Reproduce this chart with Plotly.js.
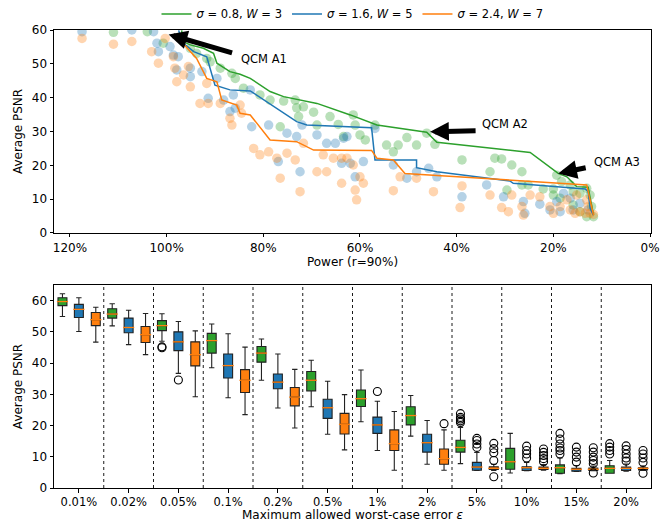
<!DOCTYPE html>
<html><head><meta charset="utf-8">
<script src="https://cdn.plot.ly/plotly-3.0.1.min.js"></script>
<style>body{margin:0;background:#fff}#c{width:670px;height:522px}</style>
</head><body><div id="c"></div>
<script>
// ---------- Top panel: scatter points (Power %, Average PSNR) ----------
const greenPower = [111.0,104,100.7,95.1,93.8,91.0,88.9,86.5,85.8,84.1,80.7,78.6,75.8,73.4,73.1,71.7,72.7,69.6,68.9,66.2,64.5,63.4,76.5,91.7,61.4,61.0,60.0,58.9,56.9,54.5,53.1,52.1,50.3,48.3,46.2,44.5,38.9,33.1,32.1,30.7,29.6,28.6,26.5,26.5,25.2,22.1,20.0,19.3,18.3,16.5,15.9,14.5,13.1,12.4,12.1,11.7,13.1,14.5,15.9,18.6,20.0];
const greenPSNR  = [59.3,59.5,56.1,54.6,53.1,50.6,48.7,47.2,45.7,42.8,40.8,39.3,39.0,39.3,37.0,37.3,34.4,35.7,31.9,34.4,32.1,28.5,31.4,51.6,34.9,31.9,29.0,27.5,31.9,26.0,24.0,26.0,28.2,26.0,29.5,26.2,21.6,18.1,22.1,21.9,12.7,20.1,18.1,14.2,14.2,13.0,13.0,17.1,15.2,14.2,12.2,11.7,13.2,11.2,7.8,4.8,4.8,6.3,8.3,10.3,11.2];
const bluePower  = [117.5,107.2,102.7,102.0,101.7,99.3,98.6,97.6,97.9,95.1,95.1,92.7,91.4,89.6,88.2,86.9,86.2,85.8,82.7,82.4,78.9,75.1,73.1,72.0,76.9,72.4,68.9,66.9,65.1,63.8,62.7,63.4,62.0,61.0,59.3,56.9,53.1,50.3,48.3,45.8,44.1,38.9,33.8,30.3,26.2,25.9,22.8,19.3,18.6,16.5,14.5,12.8,15.9,20.7,17.9];
const bluePSNR   = [59.5,60.0,59.5,56.1,53.6,55.1,52.6,52.1,48.2,48.7,46.2,47.7,39.8,45.7,39.3,35.9,40.8,36.9,42.3,31.4,31.9,29.5,28.5,31.9,21.1,18.1,29.0,26.5,26.5,20.6,28.5,28.0,20.6,16.6,21.1,30.9,20.1,16.2,18.1,19.1,16.6,10.7,14.2,10.7,9.3,5.8,8.5,9.3,6.3,10.3,8.8,6.8,6.8,6.8,11.7];
const orangePower= [117.5,111.0,107.2,103.1,101.7,100.3,98.6,98.3,97.9,96.5,95.5,95.1,93.1,91.7,91.4,88.9,86.9,86.5,84.8,84.5,82.0,80.7,78.9,77.2,76.5,75.1,73.4,72.4,71.7,68.9,66.9,65.5,63.8,62.7,67.6,63.8,61.4,61.0,60.7,59.3,60.0,53.1,51.7,48.3,44.8,38.9,39.3,33.1,30.7,29.3,28.6,26.5,26.2,24.8,22.8,20.7,20.0,18.6,17.2,16.5,15.5,14.5,13.4,12.4,11.7,12.8,15.2,13.1];
const orangePSNR = [57.5,55.8,56.6,53.6,50.2,57.5,52.1,48.7,44.7,46.7,49.2,43.2,38.3,44.2,38.3,38.3,33.9,31.9,37.8,35.4,25.0,23.1,24.0,22.1,16.2,23.6,21.6,12.2,26.5,18.1,18.1,22.1,14.7,22.1,23.1,22.1,20.1,12.7,9.8,14.7,16.6,12.5,16.6,16.2,12.2,13.9,7.5,11.2,7.5,6.3,11.2,7.8,5.3,11.2,10.7,7.8,5.8,7.8,9.8,6.8,5.8,6.3,5.8,5.8,5.5,7.8,11.2,9.8];

// ---------- Top panel: front lines ----------
const greenFrontPower = [96.9,96.5,95.1,92.4,90.3,89.6,86.9,84.8,82.7,78.6,75.8,68.9,62.0,56.5,46.2,44.1,24.8,19.0,17.2,15.2,12.8,11.7];
const greenFrontPSNR  = [59.9,56.5,55.6,54.6,53.1,50.2,47.7,46.9,45.7,41.8,40.3,38.3,34.9,31.9,29.8,26.8,23.8,17.6,16.6,13.7,13.5,5.3];
const blueFrontPower  = [97.5,96.9,94.4,91.7,90.0,86.9,82.7,73.1,71.0,62.0,57.6,56.9,48.3,48.3,44.1,29.0,28.3,13.4,12.8,12.4,11.7];
const blueFrontPSNR   = [59.9,56.5,53.6,52.1,43.7,42.3,42.0,32.9,31.9,31.4,31.1,21.6,21.6,19.3,18.1,15.4,14.7,13.0,12.2,7.3,5.3];
const orangeFrontPower= [97.2,93.8,91.7,89.6,88.6,85.5,84.8,82.7,78.6,73.1,69.6,62.0,57.6,56.5,53.1,50.7,13.1,11.7];
const orangeFrontPSNR = [57.0,51.6,45.7,44.7,39.3,37.8,35.4,34.9,27.5,27.0,24.5,24.4,24.4,22.1,21.6,17.6,14.2,5.3];

const powerTicks = [120,100,80,60,40,20,0];
const powerTickText = ['120%','100%','80%','60%','40%','20%','0%'];
const seriesNames = ['<i>σ</i> = 0.8, <i>W</i> = 3','<i>σ</i> = 1.6, <i>W</i> = 5','<i>σ</i> = 2.4, <i>W</i> = 7'];

// ---------- Bottom panel: box statistics ----------
const categories = ['0.01%','0.02%','0.05%','0.1%','0.2%','0.5%','1%','2%','5%','10%','15%','20%'];
const greenLo  = [54.9,51.9,47.0,38.5,34.5,26.0,21.2,16.6,7.8,4.8,4.6,4.7];
const greenQ1  = [58.4,54.4,50.4,43.2,40.3,31.1,26.1,20.2,11.5,6.0,4.7,4.7];
const greenMed = [59.7,55.7,52.0,47.2,43.2,34.5,28.6,23.2,13.0,8.4,6.5,6.3];
const greenQ3  = [60.9,57.4,53.6,49.5,45.3,37.3,31.4,26.0,15.3,12.7,7.4,7.1];
const greenHi  = [62.2,59.0,55.8,52.5,47.7,40.9,37.8,29.6,19.4,17.5,9.6,8.8];
const greenOut = [[],[],[45.2,44.9],[],[],[],[],[],[21.0,21.5,22.1,22.6,23.8],[],[10.9,12.0,12.8,14.1,15.7,17.5],[10.9,12.0,13.1,14.2]];
const blueLo   = [50.1,45.9,36.7,28.9,25.6,17.2,12.0,7.6,5.6,5.5,5.3,5.4];
const blueQ1   = [54.6,49.7,44.0,35.2,31.8,22.3,17.5,11.5,5.7,5.6,5.4,5.6];
const blueMed  = [57.2,51.4,46.8,39.2,33.9,25.7,20.2,14.5,6.7,6.5,6.0,6.3];
const blueQ3   = [58.8,54.4,50.0,42.9,36.5,28.4,22.7,17.2,8.2,6.8,6.3,6.7];
const blueHi   = [60.9,56.9,53.3,49.4,42.9,34.2,27.8,21.6,11.4,8.2,7.2,7.7];
const blueOut  = [[],[],[34.6],[],[],[],[30.9],[],[13.0,14.1,15.2,15.9],[9.6,10.9,12.0,13.4],[8.3,9.9,11.5,13.1],[8.6,9.6,10.9,12.3,13.5]];
const orangeLo = [46.7,42.7,29.2,23.5,19.2,12.2,5.7,5.7,5.6,5.7,5.5,5.6];
const orangeQ1 = [52.0,46.6,39.1,30.6,26.3,17.3,12.0,7.6,5.9,5.9,5.6,5.8];
const orangeMed= [53.9,49.1,42.7,34.5,29.1,20.4,14.2,9.4,6.3,6.3,6.0,6.3];
const orangeQ3 = [56.2,51.7,46.8,37.9,32.2,23.9,18.6,12.5,6.8,6.7,6.4,6.5];
const orangeHi = [57.9,55.9,50.3,45.1,38.0,29.9,24.5,18.6,7.6,7.5,7.0,7.0];
const orangeOut= [[],[],[],[],[],[],[],[20.6],[3.6,8.8,11.3,12.6,14.3],[8.4,9.4,10.4,11.4,12.5],[4.8,7.8,8.8,9.9,11.5,12.9],[4.7,8.2,9.6,10.9,12.0]];

const colors = ['#2ca02c','#1f77b4','#ff7f0e'];
const medianColor = '#ff7f0e';
const offsets = [-0.33,0,0.34];

const traces = [];
// scatter clouds
[[greenPower,greenPSNR],[bluePower,bluePSNR],[orangePower,orangePSNR]].forEach((d,i)=>{
  traces.push({type:'scatter',mode:'markers',x:d[0],y:d[1],xaxis:'x',yaxis:'y',showlegend:false,hoverinfo:'skip',
    marker:{size:9.5,color:colors[i],opacity:0.33,line:{width:0}}});
});
// fronts
[[greenFrontPower,greenFrontPSNR],[blueFrontPower,blueFrontPSNR],[orangeFrontPower,orangeFrontPSNR]].forEach((d,i)=>{
  traces.push({type:'scatter',mode:'lines',x:d[0],y:d[1],xaxis:'x',yaxis:'y',name:seriesNames[i],
    line:{color:colors[i],width:1.5},showlegend:true});
});
// boxes
const stats = [
  [greenLo,greenQ1,greenMed,greenQ3,greenHi,greenOut],
  [blueLo,blueQ1,blueMed,blueQ3,blueHi,blueOut],
  [orangeLo,orangeQ1,orangeMed,orangeQ3,orangeHi,orangeOut]];
stats.forEach((s,i)=>{
  const xs = categories.map((c,k)=>k+offsets[i]);
  traces.push({type:'box',x:xs,lowerfence:s[0],q1:s[1],median:s[2],q3:s[3],upperfence:s[4],
    xaxis:'x2',yaxis:'y2',showlegend:false,boxpoints:false,width:0.18,whiskerwidth:0.6,
    fillcolor:colors[i],line:{color:'#222',width:1.1},hoverinfo:'skip'});
  traces.push({type:'scatter',mode:'markers',x:xs,y:s[2],xaxis:'x2',yaxis:'y2',showlegend:false,hoverinfo:'skip',
    marker:{symbol:'line-ew',size:8,line:{color:medianColor,width:1.3}}});
  const ox=[],oy=[];
  s[5].forEach((arr,k)=>arr.forEach(v=>{ox.push(k+offsets[i]);oy.push(v);}));
  traces.push({type:'scatter',mode:'markers',x:ox,y:oy,xaxis:'x2',yaxis:'y2',showlegend:false,hoverinfo:'skip',
    marker:{symbol:'circle-open',size:8,color:'#000',line:{width:1.1}}});
});

const shapes = categories.slice(1).map((c,k)=>({type:'line',xref:'x2',yref:'y2 domain',x0:k+0.5,x1:k+0.5,y0:0,y1:1,
  line:{color:'#000',width:0.9,dash:'dot'}}));

const axCommon = {showline:true,mirror:true,linecolor:'#000',linewidth:1,ticks:'outside',ticklen:3.5,tickcolor:'#000',
  showgrid:false,zeroline:false,automargin:false,tickfont:{family:'DejaVu Sans',size:12,color:'#000'}};
const layout = {
  width:670,height:522,margin:{l:54,r:19,t:30,b:34,autoexpand:false},paper_bgcolor:'#fff',plot_bgcolor:'#fff',
  font:{family:'DejaVu Sans',size:12,color:'#000'},
  showlegend:true,
  legend:{orientation:'h',x:0.5,xanchor:'center',y:1.035,yanchor:'middle',font:{size:11.5},bgcolor:'rgba(0,0,0,0)',traceorder:'normal'},
  xaxis:Object.assign({},axCommon,{domain:[0,1],anchor:'y',range:[123.3,-0.2],tickvals:powerTicks,ticktext:powerTickText,
    title:{text:'Power (r=90%)',font:{size:12},standoff:3}}),
  yaxis:Object.assign({},axCommon,{domain:[0.5568,1],anchor:'x',range:[0,60],tickvals:[0,10,20,30,40,50,60],
    title:{text:'Average PSNR',font:{size:12},standoff:6}}),
  xaxis2:Object.assign({},axCommon,{domain:[0,1],anchor:'y2',range:[-0.5,11.5],tickvals:categories.map((c,k)=>k),ticktext:categories,
    tickfont:{family:'DejaVu Sans',size:11.5,color:'#000'}}),
  yaxis2:Object.assign({},axCommon,{domain:[0,0.4432],anchor:'x2',range:[0,65],tickvals:[0,10,20,30,40,50,60],
    title:{text:'Average PSNR',font:{size:12},standoff:6}}),
  boxmode:'overlay',
  shapes:shapes,
  annotations:[
    {x:99.6,y:58.7,xref:'x',yref:'y',ax:65,ay:19,text:'',showarrow:true,arrowhead:2,arrowsize:0.75,arrowwidth:5,arrowcolor:'#000',standoff:0},
    {x:45.5,y:29.9,xref:'x',yref:'y',ax:47,ay:-1,text:'',showarrow:true,arrowhead:2,arrowsize:0.75,arrowwidth:5,arrowcolor:'#000',standoff:0},
    {x:19.0,y:17.6,xref:'x',yref:'y',ax:29,ay:-6,text:'',showarrow:true,arrowhead:2,arrowsize:0.75,arrowwidth:5,arrowcolor:'#000',standoff:0},
    {x:85.0,y:51.3,xref:'x',yref:'y',text:'QCM A1',showarrow:false,xanchor:'left',yanchor:'middle',font:{size:11.5}},
    {x:35.2,y:32.2,xref:'x',yref:'y',text:'QCM A2',showarrow:false,xanchor:'left',yanchor:'middle',font:{size:11.5}},
    {x:12.1,y:21.1,xref:'x',yref:'y',text:'QCM A3',showarrow:false,xanchor:'left',yanchor:'middle',font:{size:11.5}},
    {x:0.5,y:-0.058,xref:'paper',yref:'paper',text:'Maximum allowed worst-case error <i>ε</i>',showarrow:false,
      xanchor:'center',yanchor:'middle',font:{size:12}}
  ]
};
Plotly.newPlot('c',traces,layout,{displayModeBar:false,staticPlot:true});
</script></body></html>
